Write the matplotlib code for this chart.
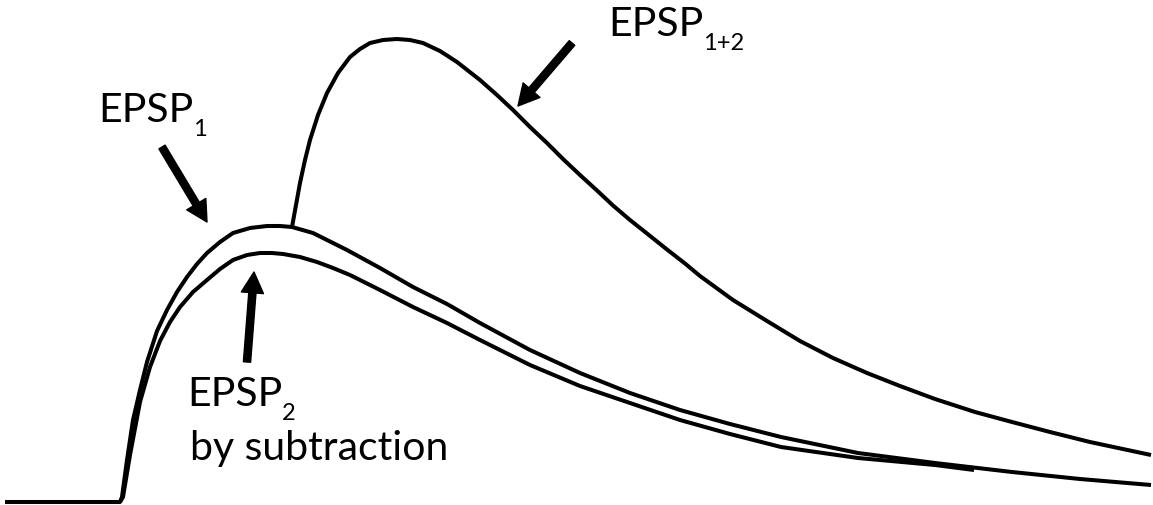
import numpy as np
import matplotlib
matplotlib.use("Agg")
import matplotlib.pyplot as plt

plt.rcParams['font.family'] = ['Lato', 'DejaVu Sans']

# traces: time (arb. units) and depolarisation (arb. units)
t_epsp1 = [0.5, 12, 12.2, 12.7, 13.3, 14, 14.7, 15.7, 16.7, 17.7, 18.7, 19.7, 20.7, 22,
           23.3, 25, 26.7, 28, 29.2, 31.3, 34.7, 38, 41.3, 44.7, 48, 53, 58, 63, 68, 73, 78.1,
           85.8, 93.5, 101.2, 108, 115.1]
v_epsp1 = [0, 0, 0.5, 4.2, 8.2, 11.2, 14, 17.1, 19.2, 21, 22.5, 23.8, 24.9, 26,
           26.9, 27.4, 27.6, 27.6, 27.5, 26.9, 25.2, 23.4, 21.5, 19.8, 17.9, 15.2, 12.9, 10.9, 9.2, 7.8, 6.5,
           4.9, 3.9, 3.0, 2.3, 1.7]

t_epsp2 = [12, 12.3, 13, 14, 15, 16, 17, 18, 19.3, 20.7, 22, 23.3, 24.7, 26, 27.2, 28.3,
           30, 31.7, 33.3, 35, 38, 41.3, 44.7, 48, 53, 58, 63, 68, 73, 78.1, 85.8, 93.5, 97.4]
v_epsp2 = [0, 0.5, 4.7, 10, 13.5, 16.1, 18, 19.5, 21, 22.2, 23.3, 24.2, 24.7, 24.9, 24.9, 24.8,
           24.5, 24.0, 23.4, 22.7, 21.2, 19.5, 17.9, 16.2, 13.7, 11.6, 9.9, 8.2, 6.8, 5.5, 4.4, 3.7, 3.2]

t_epsp12 = [29.2, 29.6, 30, 30.5, 31, 31.8, 32.7, 33.8, 35, 36, 37, 38.3, 39.7, 41, 42.3,
            44, 45.7, 48, 49.7, 51.3, 53, 54.7, 56.3, 58, 59.7, 61.3, 63, 64.7, 66.7, 68.5,
            70, 73.3, 76.7, 80, 83.3, 86.7, 90, 93.5, 97.5, 101.2, 105, 109, 115.1]
v_epsp12 = [27.5, 29.7, 31.9, 34.2, 36.2, 38.7, 40.9, 42.9, 44.5, 45.3, 45.9, 46.2, 46.3, 46.2, 45.9,
            45.1, 44.0, 42.2, 40.7, 39.2, 37.5, 35.9, 34.3, 32.7, 31.15, 29.65, 28.2, 26.85, 25.25, 23.85,
            22.6, 20.2, 18.1, 16.1, 14.4, 12.9, 11.6, 10.3, 9.0, 8.0, 7.0, 6.0, 4.7]

# label text, subscript, anchor (t, v) and arrow tail -> tip
labels = ["EPSP", "EPSP", "EPSP"]
subs = ["1", "2", "1+2"]
label_pos = [(9.8, 38.0), (18.7, 9.6), (60.8, 46.6)]
arrow_tail = [(16.2, 35.5), (24.7, 14.0), (57.2, 45.9)]
arrow_tip = [(20.7, 28.0), (25.4, 23.0), (51.8, 39.6)]

fig = plt.figure(figsize=(11.53, 5.05), dpi=100)
ax = fig.add_axes([0, 0, 1, 1])

lw = 2.9
ax.plot(t_epsp1, v_epsp1, color='black', lw=lw, solid_capstyle='butt')
ax.plot(t_epsp2, v_epsp2, color='black', lw=lw, solid_capstyle='butt')
ax.plot(t_epsp12, v_epsp12, color='black', lw=lw, solid_capstyle='butt')

for lab, sub, pos in zip(labels, subs, label_pos):
    txt = ax.text(pos[0], pos[1], lab, fontsize=29.5, va='baseline', ha='left')
    ax.annotate(sub, xy=(1, 0), xycoords=txt, xytext=(-0.5, -5), textcoords='offset points',
                fontsize=17, va='baseline', ha='left')

ax.text(19.0, 4.2, "by subtraction", fontsize=29.5, va='baseline', ha='left')

for tail, tip in zip(arrow_tail, arrow_tip):
    ax.annotate('', xy=tip, xytext=tail,
                arrowprops=dict(arrowstyle='simple,head_length=0.75,head_width=0.8,tail_width=0.26',
                                color='black', shrinkA=0, shrinkB=0, mutation_scale=20))

ax.set_xlim(0, 115.3)
ax.set_ylim(-0.3, 50.2)
ax.axis('off')

fig.savefig('out.png', dpi=100, facecolor='white')
